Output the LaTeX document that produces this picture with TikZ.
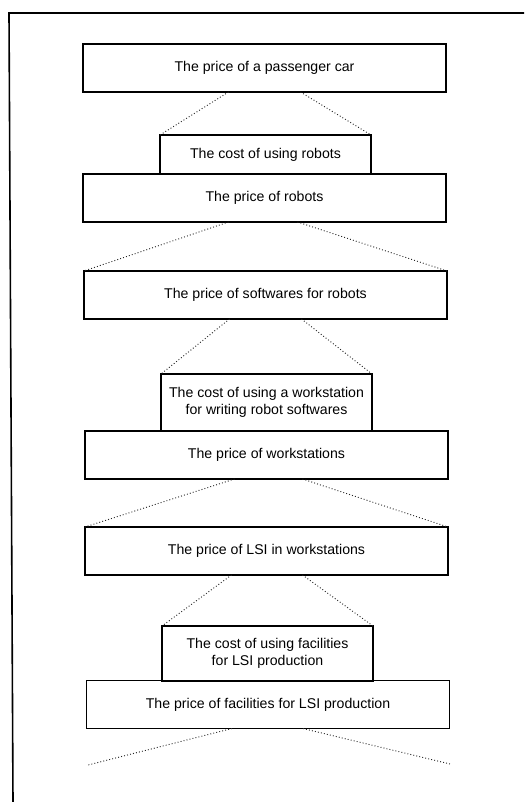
\documentclass[tikz,border=0pt]{standalone}
\usepackage{fontspec}
\setmainfont{Liberation Sans}
\usetikzlibrary{calc}

\tikzset{
  box/.style={draw, line width=0.95pt, inner sep=0pt, outer sep=0pt, align=center,
    font=\fontsize{10.6}{12.4}\selectfont},
  widebox/.style={box, minimum width=272.25pt, minimum height=36pt},
  costbox/.style={box, minimum width=158.25pt},
  link/.style={line width=0.7pt, dash pattern=on 0.7pt off 1.6pt, black!85},
  frame/.style={line width=1.2pt}
}

\begin{document}
\begin{tikzpicture}[x=0.75pt, y=-0.75pt]
\useasboundingbox (0,0) rectangle (524,802);

% outer frame (top and left rules)
\draw[frame] (524,13) -- (9,13) -- (13,802);

% chain of prices and costs
\node[widebox] (car)   at (264.5,68)    {The price of a passenger car};
\node[widebox] (robp)  at (264.5,198)   {\raisebox{-4.5pt}{The price of robots}};
\node[costbox, minimum height=29.25pt] (robc) at (265.5,154.5) {The cost of using robots};
\node[widebox] (soft)  at (265.5,295)   {The price of softwares for robots};
\node[widebox] (wsp)   at (266.5,455)   {The price of workstations};
\node[costbox, minimum height=42.75pt] (wsc) at (266.5,402.5)
  {The cost of using a workstation\\for writing robot softwares};
\node[widebox] (lsi)   at (266.5,551)   {The price of LSI in workstations};
\node[widebox] (facp)  at (268,704.5)   {The price of facilities for LSI production};
\node[costbox, minimum height=41.25pt] (facc) at (267.5,653.5)
  {\raisebox{3pt}{\begin{tabular}{@{}c@{}}The cost of using facilities\\ for LSI production\end{tabular}}};

% open ends of the last pair of dotted lines
\coordinate (endL) at (88,765);
\coordinate (endR) at (450,764);

% dotted fans between consecutive items
\draw[link] ($(car.south)+(-36,0)$) -- (robc.north west);
\draw[link] ($(car.south)+(36,0)$)  -- (robc.north east);
\draw[link] ($(robp.south)+(-36,0)$) -- (soft.north west);
\draw[link] ($(robp.south)+(33,0)$)  -- (soft.north east);
\draw[link] ($(soft.south)+(-36,0)$) -- (wsc.north west);
\draw[link] ($(soft.south)+(36,0)$)  -- (wsc.north east);
\draw[link] ($(wsp.south)+(-32,0)$) -- (lsi.north west);
\draw[link] ($(wsp.south)+(36,0)$)  -- (lsi.north east);
\draw[link] ($(lsi.south)+(-35,0)$) -- (facc.north west);
\draw[link] ($(lsi.south)+(36,0)$)  -- (facc.north east);
\draw[link] ($(facp.south)+(-36,0)$) -- (endL);
\draw[link] ($(facp.south)+(35,0)$)  -- (endR);
\end{tikzpicture}
\end{document}
